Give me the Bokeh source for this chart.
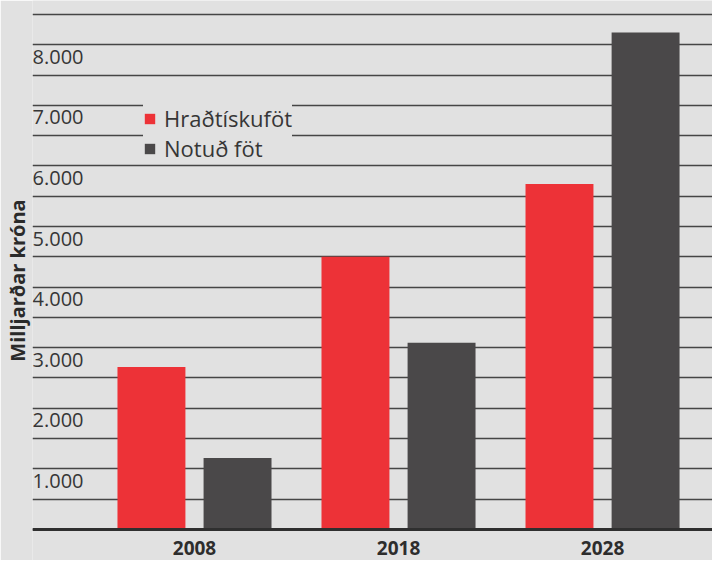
from bokeh.plotting import figure
from bokeh.models import Range1d, SingleIntervalTicker, FixedTicker, Legend, LegendItem, Span
from bokeh.core.properties import value
from bokeh.embed import file_html
from bokeh.resources import INLINE

# ---- data ----
years = ["2008", "2018", "2028"]
fast_fashion = [2680, 4500, 5700]      # Hraðtískuföt
second_hand = [1180, 3080, 8200]       # Notuð föt
tick_values = [1000, 2000, 3000, 4000, 5000, 6000, 7000, 8000]
tick_labels = ["1.000", "2.000", "3.000", "4.000", "5.000", "6.000", "7.000", "8.000"]
series_names = ["Hraðtískuföt", "Notuð föt"]
axis_title = "Milljarðar króna"

# ---- styles ----
BG = "#e1e1e1"
RED = "#ed3237"
DARK = "#4a4849"
TXT = "#363636"
FONT = "Open Sans"

x_start, x_end = -0.794, 2.539
y_start, y_end = -512, 8730
p = figure(width=712, height=560, output_backend="svg", toolbar_location=None,
           x_range=Range1d(x_start, x_end), y_range=Range1d(y_start, y_end),
           x_axis_location=None, y_axis_location="left",
           min_border_left=32, min_border_right=0, min_border_top=0, min_border_bottom=0)
p.background_fill_color = BG
p.border_fill_color = BG
p.outline_line_color = None

idx = list(range(len(years)))
off = 0.211
bw = 0.333
r1 = p.vbar(x=[i - off for i in idx], top=fast_fashion, width=bw, fill_color=RED, line_color=None)
r2 = p.vbar(x=[i + off for i in idx], top=second_hand, width=bw, fill_color=DARK, line_color=None)

# grid (every 500)
p.xgrid.visible = False
p.ygrid.ticker = SingleIntervalTicker(interval=500)
p.ygrid.bounds = (0, y_end)
p.ygrid.grid_line_color = "#454545"
p.ygrid.grid_line_width = 1.3

# y axis: only its title
ya = p.yaxis[0]
ya.ticker = FixedTicker(ticks=[])
ya.axis_line_color = None
ya.major_tick_line_color = None
ya.minor_tick_line_color = None
ya.major_label_standoff = 0
ya.axis_label = axis_title
ya.axis_label_standoff = 2
ya.axis_label_text_font = FONT
ya.axis_label_text_font_style = "bold"
ya.axis_label_text_font_size = "20px"
ya.axis_label_text_color = "#2a2a2a"

# baseline
p.add_layout(Span(location=0, dimension="width", line_color="#2f2f2f", line_width=3))

# y tick labels hanging under their grid lines
p.text(x=[x_start] * len(tick_values), y=[v - 200 for v in tick_values], text=tick_labels,
       text_align="left", text_baseline="middle", text_font=value(FONT),
       text_font_size="20px", text_color=TXT)

# category labels under the baseline
p.text(x=idx, y=[-300] * len(idx), text=years, text_align="center", text_baseline="middle",
       text_font=value(FONT), text_font_style="bold", text_font_size="19px",
       text_color="#2d2d2d")

legend = Legend(items=[LegendItem(label=series_names[0], renderers=[r1]),
                       LegendItem(label=series_names[1], renderers=[r2])],
                location=(111, 397), margin=0, padding=0, spacing=-10,
                glyph_width=13, glyph_height=13, label_height=22, label_standoff=8,
                label_text_font=FONT, label_text_font_size="22px", label_text_color=TXT,
                background_fill_color=BG, background_fill_alpha=1.0, border_line_color=None)
p.add_layout(legend)

open("out.html", "w").write(file_html(p, INLINE))
